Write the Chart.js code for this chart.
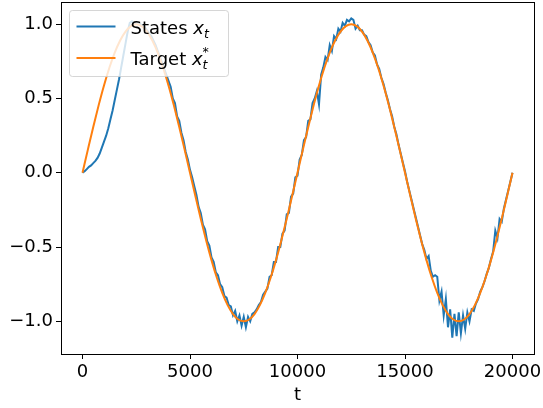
<!DOCTYPE html>
<html>
<head>
<meta charset="utf-8">
<script src="https://cdn.jsdelivr.net/npm/chart.js@4/dist/chart.umd.min.js"></script>
<style>
html, body { margin: 0; padding: 0; background: #fff; }
</style>
</head>
<body>
<canvas id="myChart" width="543" height="408"></canvas>
<script>
// sampling of the two curves along t
var stateStep = 100;
var targetStep = 250;

// States x_t, every 100 steps
var states = [
    0, 0.01, 0.025, 0.04, 0.05, 0.065, 0.08, 0.10, 0.13, 0.17, 0.21, 0.25, 0.30, 0.36, 0.42, 0.49,
    0.56, 0.63, 0.71, 0.79, 0.87, 0.95, 1.01, 1.02, 1.00, 1.01,
    1.01, 1.00, 0.99, 0.98, 0.96, 0.94, 0.92, 0.89, 0.86, 0.82, 0.78, 0.74, 0.70, 0.66, 0.62,
    0.58, 0.50, 0.47, 0.38, 0.35, 0.27, 0.22, 0.14, 0.09, 0.02,
    -0.03, -0.09, -0.15, -0.23, -0.27, -0.35, -0.38, -0.46, -0.49, -0.57, -0.60, -0.67, -0.69,
    -0.75, -0.77, -0.83, -0.84, -0.89, -0.90, -0.96, -0.93, -1.00, -0.96, -1.03, -0.97,
    -1.04, -0.97, -1.00, -0.95, -0.94, -0.92, -0.89, -0.87, -0.82, -0.80, -0.78, -0.70, -0.69,
    -0.60, -0.60, -0.50, -0.50, -0.41, -0.39, -0.28, -0.27, -0.16, -0.14, -0.03, -0.02,
    0.09, 0.12, 0.22, 0.24, 0.35, 0.36, 0.47, 0.50, 0.55, 0.46, 0.66, 0.71, 0.78, 0.76, 0.86,
    0.82, 0.92, 0.90, 0.97, 0.95, 1.01, 0.99, 1.03, 1.02, 1.04,
    1.03, 0.97, 0.99, 0.96, 0.96, 0.93, 0.92, 0.88, 0.86, 0.81, 0.79, 0.73, 0.70, 0.64, 0.60,
    0.54, 0.49, 0.43, 0.38, 0.31, 0.26, 0.19, 0.13, 0.07, 0.01,
    -0.06, -0.12, -0.18, -0.24, -0.30, -0.36, -0.42, -0.48, -0.52, -0.58, -0.56, -0.66, -0.70,
    -0.69, -0.70, -0.86, -0.80, -0.96, -0.85, -1.04, -0.92, -1.11, -0.95, -1.10, -0.94,
    -1.08, -0.96, -1.05, -0.94, -1.00, -0.92, -0.93, -0.88, -0.85, -0.80, -0.77, -0.73, -0.68,
    -0.64, -0.58, -0.53, -0.39, -0.44, -0.31, -0.33, -0.24, -0.18, -0.12, -0.06, 0.00
];

// Target x_t^*, every 250 steps
var target = [
    0, 0.156, 0.309, 0.454, 0.588, 0.707, 0.809, 0.891, 0.951, 0.988, 1,
    0.988, 0.951, 0.891, 0.809, 0.707, 0.588, 0.454, 0.309, 0.156, 0,
    -0.156, -0.309, -0.454, -0.588, -0.707, -0.809, -0.891, -0.951, -0.988, -1,
    -0.988, -0.951, -0.891, -0.809, -0.707, -0.588, -0.454, -0.309, -0.156, 0,
    0.156, 0.309, 0.454, 0.588, 0.707, 0.809, 0.891, 0.951, 0.988, 1,
    0.988, 0.951, 0.891, 0.809, 0.707, 0.588, 0.454, 0.309, 0.156, 0,
    -0.156, -0.309, -0.454, -0.588, -0.707, -0.809, -0.891, -0.951, -0.988, -1,
    -0.988, -0.951, -0.891, -0.809, -0.707, -0.588, -0.454, -0.309, -0.156, 0
];

var xTicks = [0, 5000, 10000, 15000, 20000];
var yTicks = [-1.0, -0.5, 0.0, 0.5, 1.0];
var labels = ["States", "Target"];

var blue = "#1f77b4";
var orange = "#ff7f0e";
var tickFont = { family: "DejaVu Sans", size: 18, lineHeight: 1.2 };

function toPoints(values, step)
{
    var pts = [];
    for (var i = 0; i < values.length; i++) {
        pts.push({ x: i * step, y: values[i] });
    }
    return pts;
}

// top and right spines, like matplotlib's box
var framePlugin = {
    id: "frame",
    afterDatasetsDraw: function (chart) {
        var a = chart.chartArea, ctx = chart.ctx;
        ctx.save();
        ctx.strokeStyle = "#000";
        ctx.lineWidth = 1;
        ctx.strokeRect(Math.round(a.left) + 0.5, Math.round(a.top) + 0.5,
            Math.round(a.right - a.left), Math.round(a.bottom - a.top));
        ctx.restore();
    }
};

// legend drawn inside the axes, upper left
var legendPlugin = {
    id: "mplLegend",
    afterDraw: function (chart) {
        var a = chart.chartArea, ctx = chart.ctx;
        var bx = a.left + 8.5, by = a.top + 8.5;
        ctx.save();
        ctx.beginPath();
        ctx.roundRect(bx, by, 159, 66, 3);
        ctx.fillStyle = "rgba(255,255,255,0.8)";
        ctx.fill();
        ctx.strokeStyle = "rgba(204,204,204,0.8)";
        ctx.lineWidth = 1;
        ctx.stroke();

        var rows = [
            { color: blue, text: labels[0], sup: false, y: by + 16 },
            { color: orange, text: labels[1], sup: true, y: by + 47.5 }
        ];
        rows.forEach(function (r) {
            ctx.strokeStyle = r.color;
            ctx.lineWidth = 2;
            ctx.beginPath();
            ctx.moveTo(bx + 7, r.y);
            ctx.lineTo(bx + 46, r.y);
            ctx.stroke();

            var tx = bx + 61, base = r.y + 7;
            ctx.fillStyle = "#000";
            ctx.textBaseline = "alphabetic";
            ctx.font = "18px 'DejaVu Sans'";
            ctx.fillText(r.text, tx, base);
            tx += ctx.measureText(r.text + " ").width;
            ctx.font = "italic 18px 'DejaVu Sans'";
            ctx.fillText("x", tx, base);
            tx += ctx.measureText("x").width;
            ctx.font = "italic 12.6px 'DejaVu Sans'";
            ctx.fillText("t", tx, base + 4);
            if (r.sup) {
                ctx.font = "12.6px 'DejaVu Sans'";
                ctx.fillText("*", tx, base - 9);
            }
        });
        ctx.restore();
    }
};

// no extra room for overhanging tick labels
function noLabelPadding(s)
{
    s.paddingLeft = 0;
    s.paddingRight = 0;
    s.paddingTop = 0;
    s.paddingBottom = 0;
}

var ctx = document.getElementById("myChart");
var myChart = new Chart(ctx, {
    type: "line",
    data: {
        datasets: [
            {
                label: "States",
                data: toPoints(states, stateStep),
                borderColor: blue,
                borderWidth: 2,
                pointRadius: 0,
                tension: 0,
                fill: false,
                order: 1
            },
            {
                label: "Target",
                data: toPoints(target, targetStep),
                borderColor: orange,
                borderWidth: 2,
                pointRadius: 0,
                cubicInterpolationMode: "monotone",
                fill: false,
                order: 0
            }
        ]
    },
    options: {
        responsive: false,
        animation: false,
        devicePixelRatio: 1,
        layout: { padding: { left: 0, top: 2, right: 9, bottom: 0 } },
        plugins: { legend: { display: false }, tooltip: { enabled: false } },
        scales: {
            x: {
                type: "linear",
                min: -1000,
                max: 21000,
                afterBuildTicks: function (s) { s.ticks = xTicks.map(function (v) { return { value: v }; }); },
                afterFit: function (s) { s.height = 54; noLabelPadding(s); },
                ticks: {
                    color: "#000", font: tickFont, padding: 3, maxRotation: 0, autoSkip: false,
                    callback: function (v) { return String(v); }
                },
                grid: { drawOnChartArea: false, drawTicks: true, tickLength: 5, color: "#000", lineWidth: 1 },
                border: { display: true, color: "#000", width: 1 },
                title: { display: true, text: "t", color: "#000", font: tickFont, padding: { top: 0, bottom: 2 } }
            },
            y: {
                min: -1.22,
                max: 1.15,
                afterBuildTicks: function (s) { s.ticks = yTicks.map(function (v) { return { value: v }; }); },
                afterFit: function (s) { s.width = 61; noLabelPadding(s); },
                ticks: {
                    color: "#000", font: tickFont, padding: 3, autoSkip: false,
                    callback: function (v) { return v.toFixed(1).replace("-", "\u2212"); }
                },
                grid: { drawOnChartArea: false, drawTicks: true, tickLength: 5, color: "#000", lineWidth: 1 },
                border: { display: true, color: "#000", width: 1 }
            }
        }
    },
    plugins: [framePlugin, legendPlugin]
});
</script>
</body>
</html>
